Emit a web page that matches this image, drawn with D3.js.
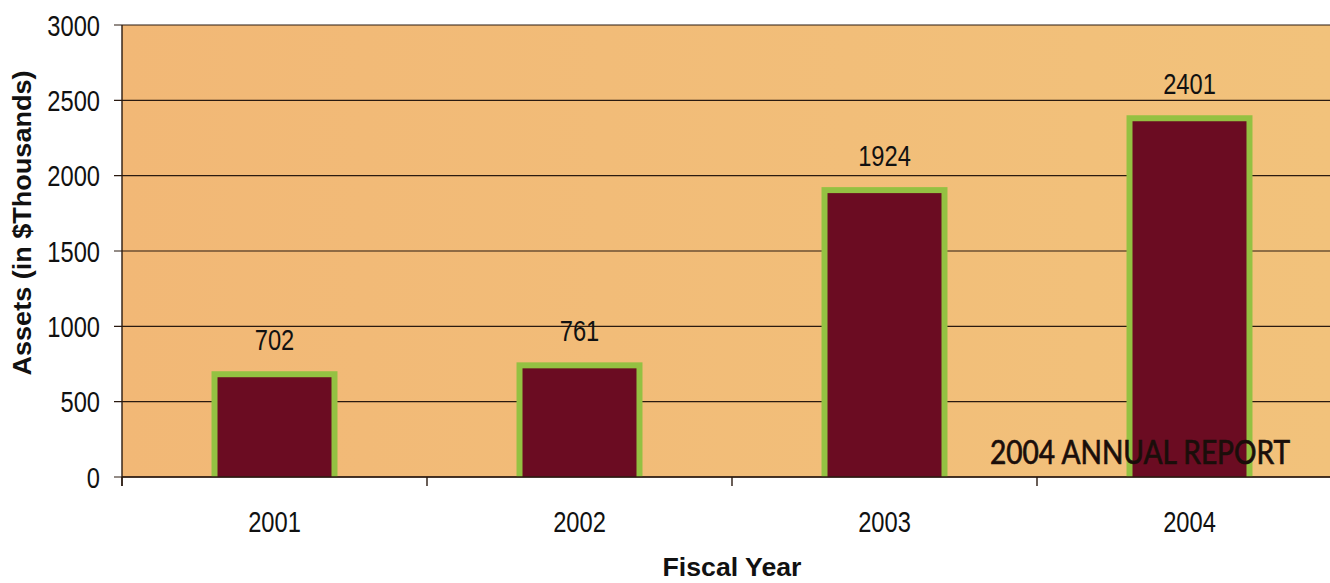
<!DOCTYPE html>
<html lang="en">
<head>
    <meta charset="UTF-8">
    <title>Assets by Fiscal Year</title>
    <script src="https://d3js.org/d3.v7.min.js"></script>
    <style>
        body {
            margin: 0;
            background: #ffffff;
            font-family: "Liberation Sans", Arial, sans-serif;
        }
        .tick-label { font-size: 30px; fill: #111; }
        .value-label { font-size: 30px; fill: #111; }
        .axis-title { font-weight: bold; font-size: 26px; fill: #111; }
        .stamp { font-family: Lato, "Open Sans", sans-serif; font-size: 32px; fill: #1a0e0a; stroke: #1a0e0a; stroke-width: 0.7px; }
    </style>
</head>
<body>
    <div id="chart"></div>

    <script>
        // Daten
        const years = ["2001", "2002", "2003", "2004"];
        const assets = [702, 761, 1924, 2401];
        const yTicks = [0, 500, 1000, 1500, 2000, 2500, 3000];

        const width = 1330;
        const height = 583;
        const margin = { top: 25, right: -12, bottom: 106, left: 122 };
        const narrow = 0.79; // schmale Schrift nachbilden

        const svg = d3.select("#chart")
            .append("svg")
            .attr("width", width)
            .attr("height", height);

        const x = d3.scaleBand()
            .domain(years)
            .range([margin.left, width - margin.right])
            .paddingInner(0.587)
            .paddingOuter(0.587 / 2);

        const y = d3.scaleLinear()
            .domain([0, 3000])
            .range([height - margin.bottom, margin.top]);

        // Hintergrund mit leichtem Verlauf
        const grad = svg.append("defs").append("linearGradient")
            .attr("id", "bg")
            .attr("x1", "0%").attr("x2", "100%");
        grad.append("stop").attr("offset", "0%").attr("stop-color", "#f2b876");
        grad.append("stop").attr("offset", "100%").attr("stop-color", "#f2c27b");

        svg.append("rect")
            .attr("x", margin.left)
            .attr("y", y(3000))
            .attr("width", width - margin.left)
            .attr("height", y(0) - y(3000))
            .attr("fill", "url(#bg)");

        // Gitterlinien + Y-Ticks
        svg.selectAll(".grid")
            .data(yTicks)
            .enter()
            .append("line")
            .attr("x1", margin.left - 8)
            .attr("x2", width)
            .attr("y1", d => y(d))
            .attr("y2", d => y(d))
            .attr("stroke", "#2a1a10")
            .attr("stroke-width", 1.2);

        svg.selectAll(".y-label")
            .data(yTicks)
            .enter()
            .append("text")
            .attr("class", "tick-label")
            .attr("transform", d => `translate(${margin.left - 22},${y(d)}) scale(${narrow},1)`)
            .attr("dy", "0.36em")
            .attr("text-anchor", "end")
            .text(d => d);

        // Balken: gruener Rahmen, dunkelroter Kern
        const border = 6;
        svg.selectAll(".bar-outer")
            .data(assets)
            .enter()
            .append("rect")
            .attr("x", (d, i) => x(years[i]))
            .attr("y", d => y(d))
            .attr("width", x.bandwidth())
            .attr("height", d => y(0) - y(d))
            .attr("fill", "#94c142");

        svg.selectAll(".bar-inner")
            .data(assets)
            .enter()
            .append("rect")
            .attr("x", (d, i) => x(years[i]) + border)
            .attr("y", d => y(d) + border)
            .attr("width", x.bandwidth() - 2 * border)
            .attr("height", d => y(0) - y(d) - border)
            .attr("fill", "#6b0c22");

        // Werte
        svg.selectAll(".value-label")
            .data(assets)
            .enter()
            .append("text")
            .attr("class", "value-label")
            .attr("transform", (d, i) => `translate(${x(years[i]) + x.bandwidth() / 2},${y(d) - 21}) scale(${narrow},1)`)
            .attr("text-anchor", "middle")
            .text(d => d);

        // Achsen
        svg.append("line")
            .attr("x1", margin.left).attr("x2", margin.left)
            .attr("y1", y(3000)).attr("y2", y(0) + 9)
            .attr("stroke", "#2a1a10").attr("stroke-width", 1.4);

        svg.append("line")
            .attr("x1", margin.left).attr("x2", width)
            .attr("y1", y(0)).attr("y2", y(0))
            .attr("stroke", "#2a1a10").attr("stroke-width", 1.4);

        const gap = x.step() - x.bandwidth();
        svg.selectAll(".x-tick")
            .data(years)
            .enter()
            .append("line")
            .attr("x1", d => x(d) - gap / 2)
            .attr("x2", d => x(d) - gap / 2)
            .attr("y1", y(0))
            .attr("y2", y(0) + 9)
            .attr("stroke", "#2a1a10")
            .attr("stroke-width", 1.4);

        svg.selectAll(".x-label")
            .data(years)
            .enter()
            .append("text")
            .attr("class", "tick-label")
            .attr("transform", d => `translate(${x(d) + x.bandwidth() / 2},${y(0) + 55}) scale(${narrow},1)`)
            .attr("text-anchor", "middle")
            .text(d => d);

        // Achsentitel
        svg.append("text")
            .attr("class", "axis-title")
            .attr("transform", "translate(31,223) rotate(-90)")
            .attr("text-anchor", "middle")
            .attr("textLength", 305)
            .attr("lengthAdjust", "spacingAndGlyphs")
            .text("Assets (in $Thousands)");

        svg.append("text")
            .attr("class", "axis-title")
            .attr("x", 732)
            .attr("y", 576)
            .attr("text-anchor", "middle")
            .attr("textLength", 139)
            .attr("lengthAdjust", "spacingAndGlyphs")
            .text("Fiscal Year");

        // Aufdruck
        svg.append("text")
            .attr("class", "stamp")
            .attr("x", 990)
            .attr("y", 464)
            .attr("textLength", 300)
            .attr("lengthAdjust", "spacingAndGlyphs")
            .text("2004 ANNUAL REPORT");
    </script>
</body>
</html>
